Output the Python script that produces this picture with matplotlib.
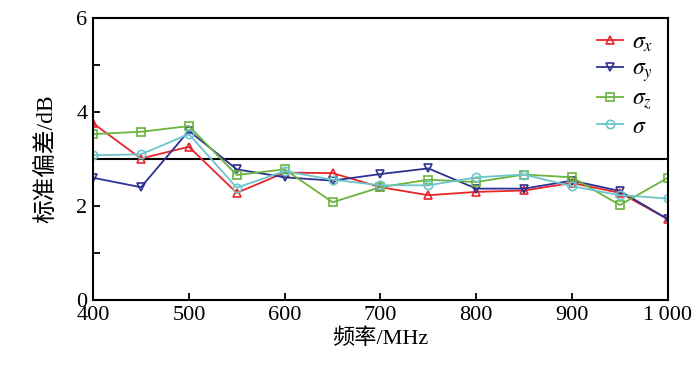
import numpy as np
import matplotlib
matplotlib.use("Agg")
import matplotlib.pyplot as plt
from matplotlib.ticker import MultipleLocator

plt.rcParams['font.family'] = ['Liberation Serif', 'Noto Sans CJK SC']
plt.rcParams['mathtext.fontset'] = 'stix'

# Data
freq = [400, 450, 500, 550, 600, 650, 700, 750, 800, 850, 900, 950, 1000]
sigma_x = [3.76, 3.01, 3.26, 2.28, 2.71, 2.70, 2.40, 2.23, 2.30, 2.33, 2.49, 2.28, 1.72]
sigma_y = [2.60, 2.40, 3.60, 2.78, 2.61, 2.54, 2.68, 2.80, 2.37, 2.37, 2.54, 2.32, 1.72]
sigma_z = [3.53, 3.58, 3.70, 2.66, 2.78, 2.08, 2.40, 2.56, 2.51, 2.67, 2.61, 2.02, 2.60]
sigma = [3.08, 3.10, 3.53, 2.39, 2.74, 2.56, 2.44, 2.44, 2.61, 2.67, 2.42, 2.23, 2.16]
threshold = 3.0
xticks = [400, 500, 600, 700, 800, 900, 1000]
xticklabels = ['400', '500', '600', '700', '800', '900', '1\u2009000']

fig = plt.figure(figsize=(7, 3.75), dpi=100)
ax = fig.add_axes([0.133, 0.2, 0.821, 0.752])

ax.axhline(threshold, color='black', lw=1.5, zorder=1)

series = [
    (sigma_x, '#e8262a', '^', r'$\sigma_x$'),
    (sigma_y, '#2e3192', 'v', r'$\sigma_y$'),
    (sigma_z, '#6ab43e', 's', r'$\sigma_z$'),
    (sigma, '#6cc5c8', 'o', r'$\sigma$'),
]
for vals, c, m, lab in series:
    ax.plot(freq, vals, color=c, marker=m, markersize=6, markerfacecolor='none',
            markeredgecolor=c, markeredgewidth=1.2, lw=1.3, label=lab, zorder=2)

ax.set_xlim(400, 1000)
ax.set_ylim(0, 6)
ax.set_xticks(xticks)
ax.set_xticklabels(xticklabels)
ax.set_yticks([0, 2, 4, 6])
ax.yaxis.set_minor_locator(MultipleLocator(1))
ax.tick_params(direction='in', length=5, width=1.3, labelsize=16, pad=4)
ax.tick_params(which='minor', direction='in', length=5, width=1.3)
for s in ax.spines.values():
    s.set_linewidth(1.5)

ax.set_xlabel('频率/MHz', fontsize=16, labelpad=3)
ax.set_ylabel('标准偏差/dB', fontsize=17, labelpad=14)

ax.legend(loc='upper right', frameon=False, fontsize=17, handlelength=1.1,
          borderaxespad=0.2, labelspacing=0.18, handletextpad=0.4,
          bbox_to_anchor=(1.0, 1.0))

fig.savefig('out.png', dpi=100)
